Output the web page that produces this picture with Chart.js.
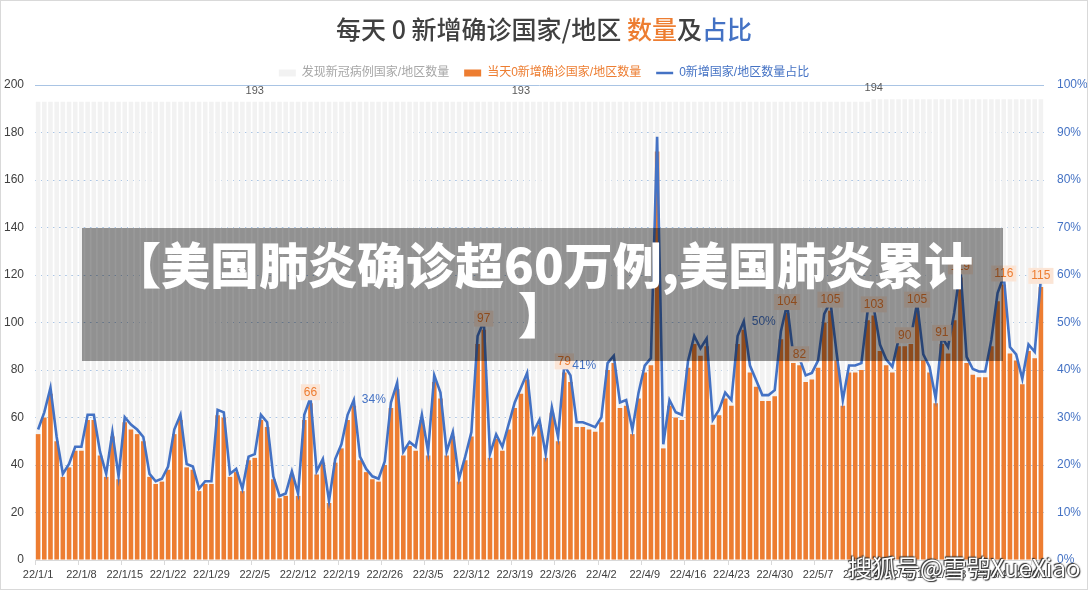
<!DOCTYPE html>
<html>
<head>
<meta charset="utf-8">
<script src="https://cdn.jsdelivr.net/npm/chart.js@4.4.1/dist/chart.umd.min.js"></script>
<style>
  html, body { margin: 0; padding: 0; background: #fff; }
  #wrap { position: relative; width: 1088px; height: 590px; overflow: hidden; }
  #frame { position: absolute; left: 0; top: 0; width: 1086px; height: 588px; border: 1px solid #d9d9d9; pointer-events: none; }
  #title { position: absolute; left: 0; top: 16px; width: 1088px; text-align: center;
           font: 500 25px/25px "Noto Sans CJK SC", sans-serif; color: #404040; }
  #banner { position: absolute; left: 82px; top: 228px; width: 921px; height: 133px; background: rgba(0,0,0,0.4);
            color: #fff; text-align: center; font: 900 49px/50px "Noto Sans CJK SC", sans-serif; padding-top: 10px; box-sizing: border-box; }
  #mark { position: absolute; left: 848px; top: 553px; color: #fff; font: 24px/28px "Noto Sans CJK SC", sans-serif;
          text-shadow: 0 0 2px #333, 1px 1px 1px #333, -1px -1px 1px #333; white-space: nowrap; }
</style>
</head>
<body>
<div id="wrap">
  <canvas id="chart" width="1088" height="590"></canvas>
  <div id="title">每天 0 新增确诊国家/地区 <span style="color:#ED7D31">数量</span>及<span style="color:#4472C4">占比</span></div>
  <div id="banner">【美国肺炎确诊超60万例,美国肺炎累计<br>】</div>
  <div id="mark">搜狐号@雪鸮XueXiao</div>
  <div id="frame"></div>
</div>
<script>
// countries with 0 new confirmed cases that day (from 22/1/1)
const zeroNew = [
  53, 60, 70, 50, 35, 39, 46, 46, 59, 59,
  44, 35, 52, 34, 58, 55, 53, 50, 35, 32,
  33, 38, 53, 59, 39, 38, 29, 32, 32, 61,
  60, 35, 37, 29, 42, 43, 59, 56, 34, 26,
  27, 36, 27, 59, 66, 36, 41, 24, 41, 47,
  59, 65, 42, 37, 34, 33, 40, 64, 72, 44,
  48, 46, 59, 44, 75, 68, 44, 52, 33, 42,
  52, 91, 97, 43, 51, 46, 55, 64, 70, 76,
  52, 57, 43, 62, 50, 79, 75, 56, 56, 55,
  54, 58, 80, 83, 64, 65, 53, 68, 79, 82,
  172, 47, 65, 60, 59, 81, 91, 86, 90, 57,
  61, 68, 65, 91, 97, 79, 73, 67, 67, 69,
  93, 104, 83, 82, 75, 76, 81, 100, 105, 84,
  65, 79, 79, 80, 101, 103, 88, 82, 79, 90,
  90, 91, 105, 84, 79, 66, 91, 87, 101, 119,
  83, 78, 77, 77, 90, 109, 116, 87, 84, 74,
  88, 85, 115
];

// countries that have reported covid cases
const reported = [
  193, 193, 193, 193, 193, 193, 193, 193, 193, 193,
  193, 193, 193, 193, 193, 193, 193, 193, 193, 193,
  193, 193, 193, 193, 193, 193, 193, 193, 193, 193,
  193, 193, 193, 193, 193, 193, 193, 193, 193, 193,
  193, 193, 193, 193, 193, 193, 193, 193, 193, 193,
  193, 193, 193, 193, 193, 193, 193, 193, 193, 193,
  193, 193, 193, 193, 193, 193, 193, 193, 193, 193,
  193, 193, 193, 193, 193, 193, 193, 193, 193, 193,
  193, 193, 193, 193, 193, 193, 193, 193, 193, 193,
  193, 193, 193, 193, 193, 193, 193, 193, 193, 193,
  193, 193, 193, 193, 193, 193, 193, 193, 193, 193,
  193, 193, 193, 193, 193, 193, 193, 193, 193, 193,
  193, 193, 193, 193, 193, 193, 193, 193, 193, 193,
  193, 193, 193, 193, 193, 194, 194, 194, 194, 194,
  194, 194, 194, 194, 194, 194, 194, 194, 194, 194,
  194, 194, 194, 194, 194, 194, 194, 194, 194, 194,
  194, 194, 194
];

const tickLabels = ['22/1/1', '22/1/8', '22/1/15', '22/1/22', '22/1/29', '22/2/5', '22/2/12', '22/2/19',
  '22/2/26', '22/3/5', '22/3/12', '22/3/19', '22/3/26', '22/4/2', '22/4/9', '22/4/16', '22/4/23',
  '22/4/30', '22/5/7', '22/5/14', '22/5/21', '22/5/28', '22/6/4', '22/6/11'];

// which points carry a data label
const zeroLabelAt = [44, 72, 85, 121, 123, 128, 135, 140, 142, 146, 149, 156, 162];
const ratioLabelAt = [51, 85, 114];
const reportedLabelAt = [35, 78, 135];

const days = zeroNew.map((v, i) => {
  const d = new Date(2022, 0, 1 + i);
  return '22/' + (d.getMonth() + 1) + '/' + d.getDate();
});
// share = zero-new countries / reporting countries
const ratio = zeroNew.map((v, i) => v / reported[i] * 100);

const ORANGE = '#ED7D31', BLUE = '#4472C4', GRAY = '#F2F2F2';
Chart.defaults.font.family = '"Liberation Sans", "Noto Sans CJK SC", sans-serif';

const legendFit = {
  id: 'legendFit',
  afterInit(chart) {
    const lg = chart.legend;
    const fit = lg.fit;
    lg.fit = function () { fit.call(this); this.height = 33; };
  }
};

const labels = {
  id: 'labels',
  afterDatasetsDraw(chart) {
    const ctx = chart.ctx;
    ctx.save();
    ctx.textAlign = 'center';
    ctx.textBaseline = 'middle';

    ctx.font = '11px "Liberation Sans", sans-serif';
    ctx.fillStyle = '#595959';
    const m0 = chart.getDatasetMeta(0);
    reportedLabelAt.forEach(i => ctx.fillText(reported[i], m0.data[i].x, m0.data[i].y - 11));

    ctx.font = '12px "Liberation Sans", sans-serif';
    const m1 = chart.getDatasetMeta(1);
    zeroLabelAt.forEach(i => {
      const el = m1.data[i];
      const t = String(zeroNew[i]);
      const w = ctx.measureText(t).width + 6;
      ctx.fillStyle = '#FBE5D6';
      ctx.fillRect(el.x - w / 2, el.y - 19, w, 16);
      ctx.fillStyle = ORANGE;
      ctx.fillText(t, el.x, el.y - 11);
    });

    ctx.textAlign = 'left';
    ctx.fillStyle = BLUE;
    const m2 = chart.getDatasetMeta(2);
    ratioLabelAt.forEach(i => {
      const el = m2.data[i];
      ctx.fillText(Math.round(ratio[i]) + '%', el.x + 8, el.y);
    });
    ctx.restore();
  }
};

new Chart(document.getElementById('chart'), {
  type: 'bar',
  data: {
    labels: days,
    datasets: [
      { label: '发现新冠病例国家/地区数量', data: reported, backgroundColor: GRAY, grouped: false,
        order: 3, barPercentage: 0.74, categoryPercentage: 1, yAxisID: 'y' },
      { label: '当天0新增确诊国家/地区数量', data: zeroNew, backgroundColor: ORANGE, grouped: false,
        order: 2, barPercentage: 0.74, categoryPercentage: 1, yAxisID: 'y' },
      { label: '0新增国家/地区数量占比', type: 'line', data: ratio, borderColor: BLUE, borderWidth: 2.6,
        pointRadius: 0, tension: 0, order: 1, yAxisID: 'y1' }
    ]
  },
  options: {
    responsive: false,
    animation: false,
    layout: { padding: { top: 52, left: 0, right: 0, bottom: 0 } },
    plugins: {
      tooltip: { enabled: false },
      legend: {
        position: 'top',
        labels: {
          usePointStyle: true,
          pointStyleWidth: 17,
          boxHeight: 7,
          padding: 15,
          font: { size: 12 },
          generateLabels(chart) {
            const items = Chart.defaults.plugins.legend.labels.generateLabels(chart);
            items.sort((a, b) => a.datasetIndex - b.datasetIndex);
            const cols = ['#A6A6A6', ORANGE, BLUE];
            items.forEach(it => {
              it.fontColor = cols[it.datasetIndex];
              if (it.datasetIndex === 2) {
                it.pointStyle = 'line';
                it.strokeStyle = BLUE;
                it.lineWidth = 2.5;
              } else {
                it.pointStyle = 'rect';
                it.lineWidth = 0;
              }
            });
            return items;
          }
        }
      }
    },
    scales: {
      x: {
        afterFit(s) { s.height = 30; },
        grid: {
          drawOnChartArea: false, drawTicks: true, tickLength: 5,
          color: c => tickLabels.includes(days[c.index]) ? '#D9D9D9' : 'rgba(0,0,0,0)'
        },
        border: { display: true, color: '#D9D9D9' },
        ticks: {
          autoSkip: false, maxRotation: 0, minRotation: 0, padding: 3,
          color: '#404040', font: { size: 11 },
          callback(v) { const l = this.getLabelForValue(v); return tickLabels.includes(l) ? l : ''; }
        }
      },
      y: {
        position: 'left', min: 0, max: 200,
        afterFit(s) { s.width = 35; },
        ticks: { stepSize: 20, padding: 11, color: '#404040', font: { size: 12 } },
        grid: {
          drawTicks: false,
          color: c => c.tick.value === 0 ? 'rgba(0,0,0,0)' : '#A9C4E4'
        },
        border: { display: false, dash: c => c.tick && c.tick.value === 200 ? [] : [3, 3] }
      },
      y1: {
        position: 'right', min: 0, max: 100,
        afterFit(s) { s.width = 44; },
        ticks: { stepSize: 10, padding: 13, color: BLUE, font: { size: 12 }, callback: v => v + '%' },
        grid: { drawOnChartArea: false, drawTicks: false },
        border: { display: false }
      }
    }
  },
  plugins: [legendFit, labels]
});
</script>
</body>
</html>
